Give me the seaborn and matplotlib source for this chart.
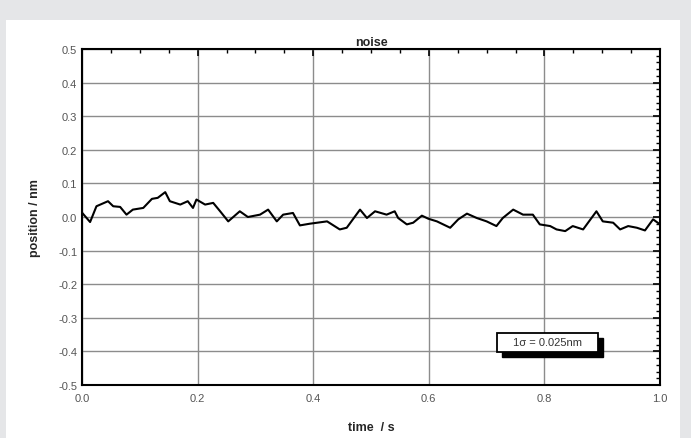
import numpy as np
import pandas as pd
import matplotlib
matplotlib.use("Agg")
import matplotlib.pyplot as plt
import seaborn as sns
from matplotlib.patches import Rectangle
from matplotlib.ticker import MultipleLocator

# values
time_s = [0.000, 0.014, 0.025, 0.045, 0.054, 0.066, 0.077, 0.088, 0.106, 0.121,
          0.131, 0.144, 0.152, 0.170, 0.183, 0.192, 0.198, 0.213, 0.227, 0.239,
          0.253, 0.273, 0.287, 0.308, 0.322, 0.337, 0.348, 0.365, 0.377, 0.394,
          0.424, 0.446, 0.458, 0.481, 0.493, 0.507, 0.527, 0.541, 0.547, 0.562,
          0.573, 0.588, 0.599, 0.614, 0.637, 0.651, 0.666, 0.683, 0.700, 0.717,
          0.728, 0.746, 0.763, 0.780, 0.792, 0.810, 0.821, 0.836, 0.849, 0.867,
          0.890, 0.901, 0.919, 0.931, 0.945, 0.960, 0.974, 0.988, 1.000]
position_nm = [0.013, -0.015, 0.032, 0.047, 0.032, 0.030, 0.007, 0.022, 0.027, 0.054,
               0.057, 0.074, 0.047, 0.037, 0.047, 0.027, 0.052, 0.037, 0.042, 0.017,
               -0.013, 0.017, 0.000, 0.007, 0.022, -0.013, 0.007, 0.012, -0.025, -0.020,
               -0.013, -0.037, -0.032, 0.022, -0.003, 0.017, 0.007, 0.017, -0.003, -0.022,
               -0.017, 0.004, -0.005, -0.013, -0.032, -0.007, 0.010, -0.003, -0.013, -0.027,
               -0.003, 0.022, 0.007, 0.007, -0.022, -0.027, -0.037, -0.042, -0.027, -0.037,
               0.017, -0.013, -0.017, -0.037, -0.027, -0.032, -0.040, -0.007, -0.022]
x_ticks = [0.0, 0.2, 0.4, 0.6, 0.8, 1.0]
y_ticks = [-0.5, -0.4, -0.3, -0.2, -0.1, 0.0, 0.1, 0.2, 0.3, 0.4, 0.5]
sigma_label = "1σ = 0.025nm"

sns.set_theme(style="white")
plt.rcParams['font.family'] = ['Liberation Sans', 'DejaVu Sans']

df = pd.DataFrame({'time': time_s, 'position': position_nm})

fig = plt.figure(figsize=(6.91, 4.39), dpi=100)
fig.patch.set_facecolor('#e5e6e8')
# white panel inside the grey frame
fig.patches.append(Rectangle((6 / 691, 0), 674 / 691, 418 / 439, transform=fig.transFigure,
                             facecolor='white', edgecolor='none', zorder=-5))

ax = fig.add_axes([82 / 691, 1 - 386 / 439, 578 / 691, 336 / 439])
ax.set_zorder(2)
ax.set_facecolor('white')

sns.lineplot(data=df, x='time', y='position', color='black', linewidth=1.5, ax=ax, zorder=3)

ax.set_xlim(0, 1)
ax.set_ylim(-0.5, 0.5)
ax.set_xticks(x_ticks)
ax.set_yticks(y_ticks)
ax.set_xticklabels([f"{v:.1f}" for v in x_ticks])
ax.set_yticklabels([f"{v:.1f}" for v in y_ticks])
ax.xaxis.set_minor_locator(MultipleLocator(0.05))
ax.yaxis.set_minor_locator(MultipleLocator(0.02))

ax.grid(True, which='major', color='#8c8c8c', linewidth=1.0)
ax.set_axisbelow(True)
for s in ax.spines.values():
    s.set_color('black')
    s.set_linewidth(1.5)

ax.tick_params(which='both', direction='in', top=True, right=True, colors='black',
               labelcolor='#555555', labelsize=8)
ax.tick_params(which='major', length=5, width=1.2)
ax.tick_params(which='minor', length=3, width=1.0)
ax.tick_params(axis='x', pad=6)

ax.set_title('noise', fontsize=9, fontweight='bold', pad=3)
ax.set_xlabel('time  / s', fontsize=9, fontweight='bold', labelpad=13)
ax.set_ylabel('position / nm', fontsize=9, fontweight='bold', labelpad=12)

# annotation box with drop shadow
bx, by, bw, bh = 0.718, 0.098, 0.175, 0.057
ax.add_patch(Rectangle((bx + 0.009, by - 0.015), bw, bh, transform=ax.transAxes,
                       facecolor='black', edgecolor='black', zorder=5))
ax.add_patch(Rectangle((bx, by), bw, bh, transform=ax.transAxes,
                       facecolor='white', edgecolor='black', linewidth=1.3, zorder=6))
ax.text(bx + bw / 2, by + bh / 2, sigma_label, transform=ax.transAxes, ha='center',
        va='center', fontsize=8, color='#333333', zorder=7)

plt.savefig('out.png', dpi=100, facecolor=fig.get_facecolor())
plt.close()
